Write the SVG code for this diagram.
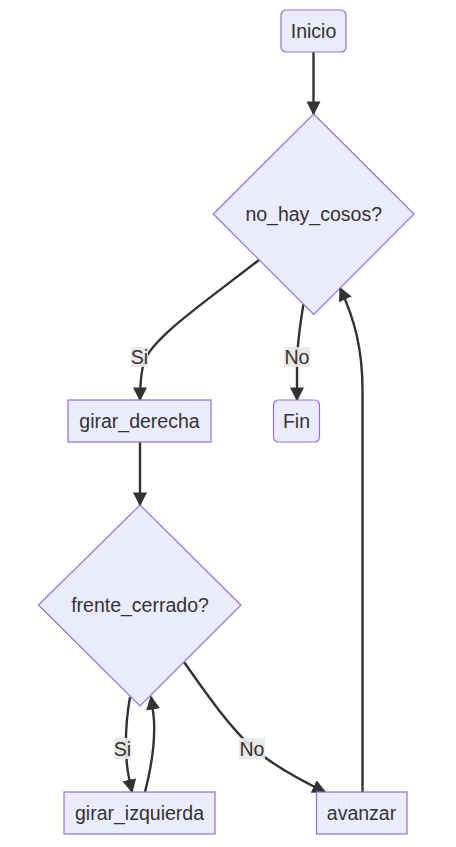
<svg xmlns="http://www.w3.org/2000/svg" width="456" height="847" viewBox="0 0 456 847">
<style>
.node rect,.node polygon{fill:#ECECFF;stroke:#9370DB;stroke-width:1.2}
text{font-family:"Liberation Sans",Arial,sans-serif;font-size:19.5px;fill:#333;text-anchor:middle;dominant-baseline:central}
.edge{fill:none;stroke:#333;stroke-width:2.4}
.lbl{fill:#e8e8e8;opacity:0.9}
</style>
<defs>
<marker id="arrow" viewBox="0 0 10 10" refX="9" refY="5" markerUnits="userSpaceOnUse" markerWidth="14" markerHeight="14" orient="auto">
<path d="M0,0 L10,5 L0,10 z" fill="#333"/>
</marker>
</defs>
<rect width="456" height="847" fill="#ffffff"/>
<g id="connectors">
<path class="edge" d="M313.5,52 L313.5,114" marker-end="url(#arrow)"/>
<path class="edge" d="M259,260 C205,302 152,338 144,362 C140,376 140,388 140,400" marker-end="url(#arrow)"/>
<path class="edge" d="M303.5,304 C300,325 297,345 297,365 L297,400" marker-end="url(#arrow)"/>
<path class="edge" d="M140,442 L140,505" marker-end="url(#arrow)"/>
<path class="edge" d="M130,697 C126,720 125,745 127,765 C128,775 130,783 132,792" marker-end="url(#arrow)"/>
<path class="edge" d="M145,792 C152,765 155,740 154,720 C153,710 152,703 151,697" marker-end="url(#arrow)"/>
<path class="edge" d="M184,662 C205,692 230,728 255,750 C275,766 300,780 325,792" marker-end="url(#arrow)"/>
<path class="edge" d="M362.5,792 L362.5,390 C362.5,350 355,320 340,288" marker-end="url(#arrow)"/>
</g>
<g id="edge-labels">
<rect class="lbl" x="131" y="347" width="17" height="20"/><text x="139.5" y="357">Si</text>
<rect class="lbl" x="284" y="347" width="26" height="20"/><text x="297" y="357">No</text>
<rect class="lbl" x="114" y="738" width="17" height="21"/><text x="122.5" y="748.5">Si</text>
<rect class="lbl" x="239" y="738" width="26" height="21"/><text x="252" y="748.5">No</text>
</g>
<g id="inicio" class="node"><rect x="281" y="10" width="65" height="42" rx="5" ry="5"/><text x="313.5" y="31">Inicio</text></g>
<g id="no_hay_cosos" class="node"><polygon points="313.7,114 414,214 313.7,314.5 213.3,214"/><text x="313.7" y="214">no_hay_cosos?</text></g>
<g id="girar_derecha" class="node"><rect x="68" y="400" width="143" height="42"/><text x="139.5" y="421">girar_derecha</text></g>
<g id="fin" class="node"><rect x="273.5" y="400" width="46" height="42" rx="5" ry="5"/><text x="296.5" y="421">Fin</text></g>
<g id="frente_cerrado" class="node"><polygon points="140,505 241,605 140,706 38.5,605"/><text x="140" y="605">frente_cerrado?</text></g>
<g id="girar_izquierda" class="node"><rect x="64" y="792" width="151" height="42"/><text x="139.5" y="813">girar_izquierda</text></g>
<g id="avanzar" class="node"><rect x="316.5" y="792" width="90.5" height="42"/><text x="361.5" y="813">avanzar</text></g>
</svg>
